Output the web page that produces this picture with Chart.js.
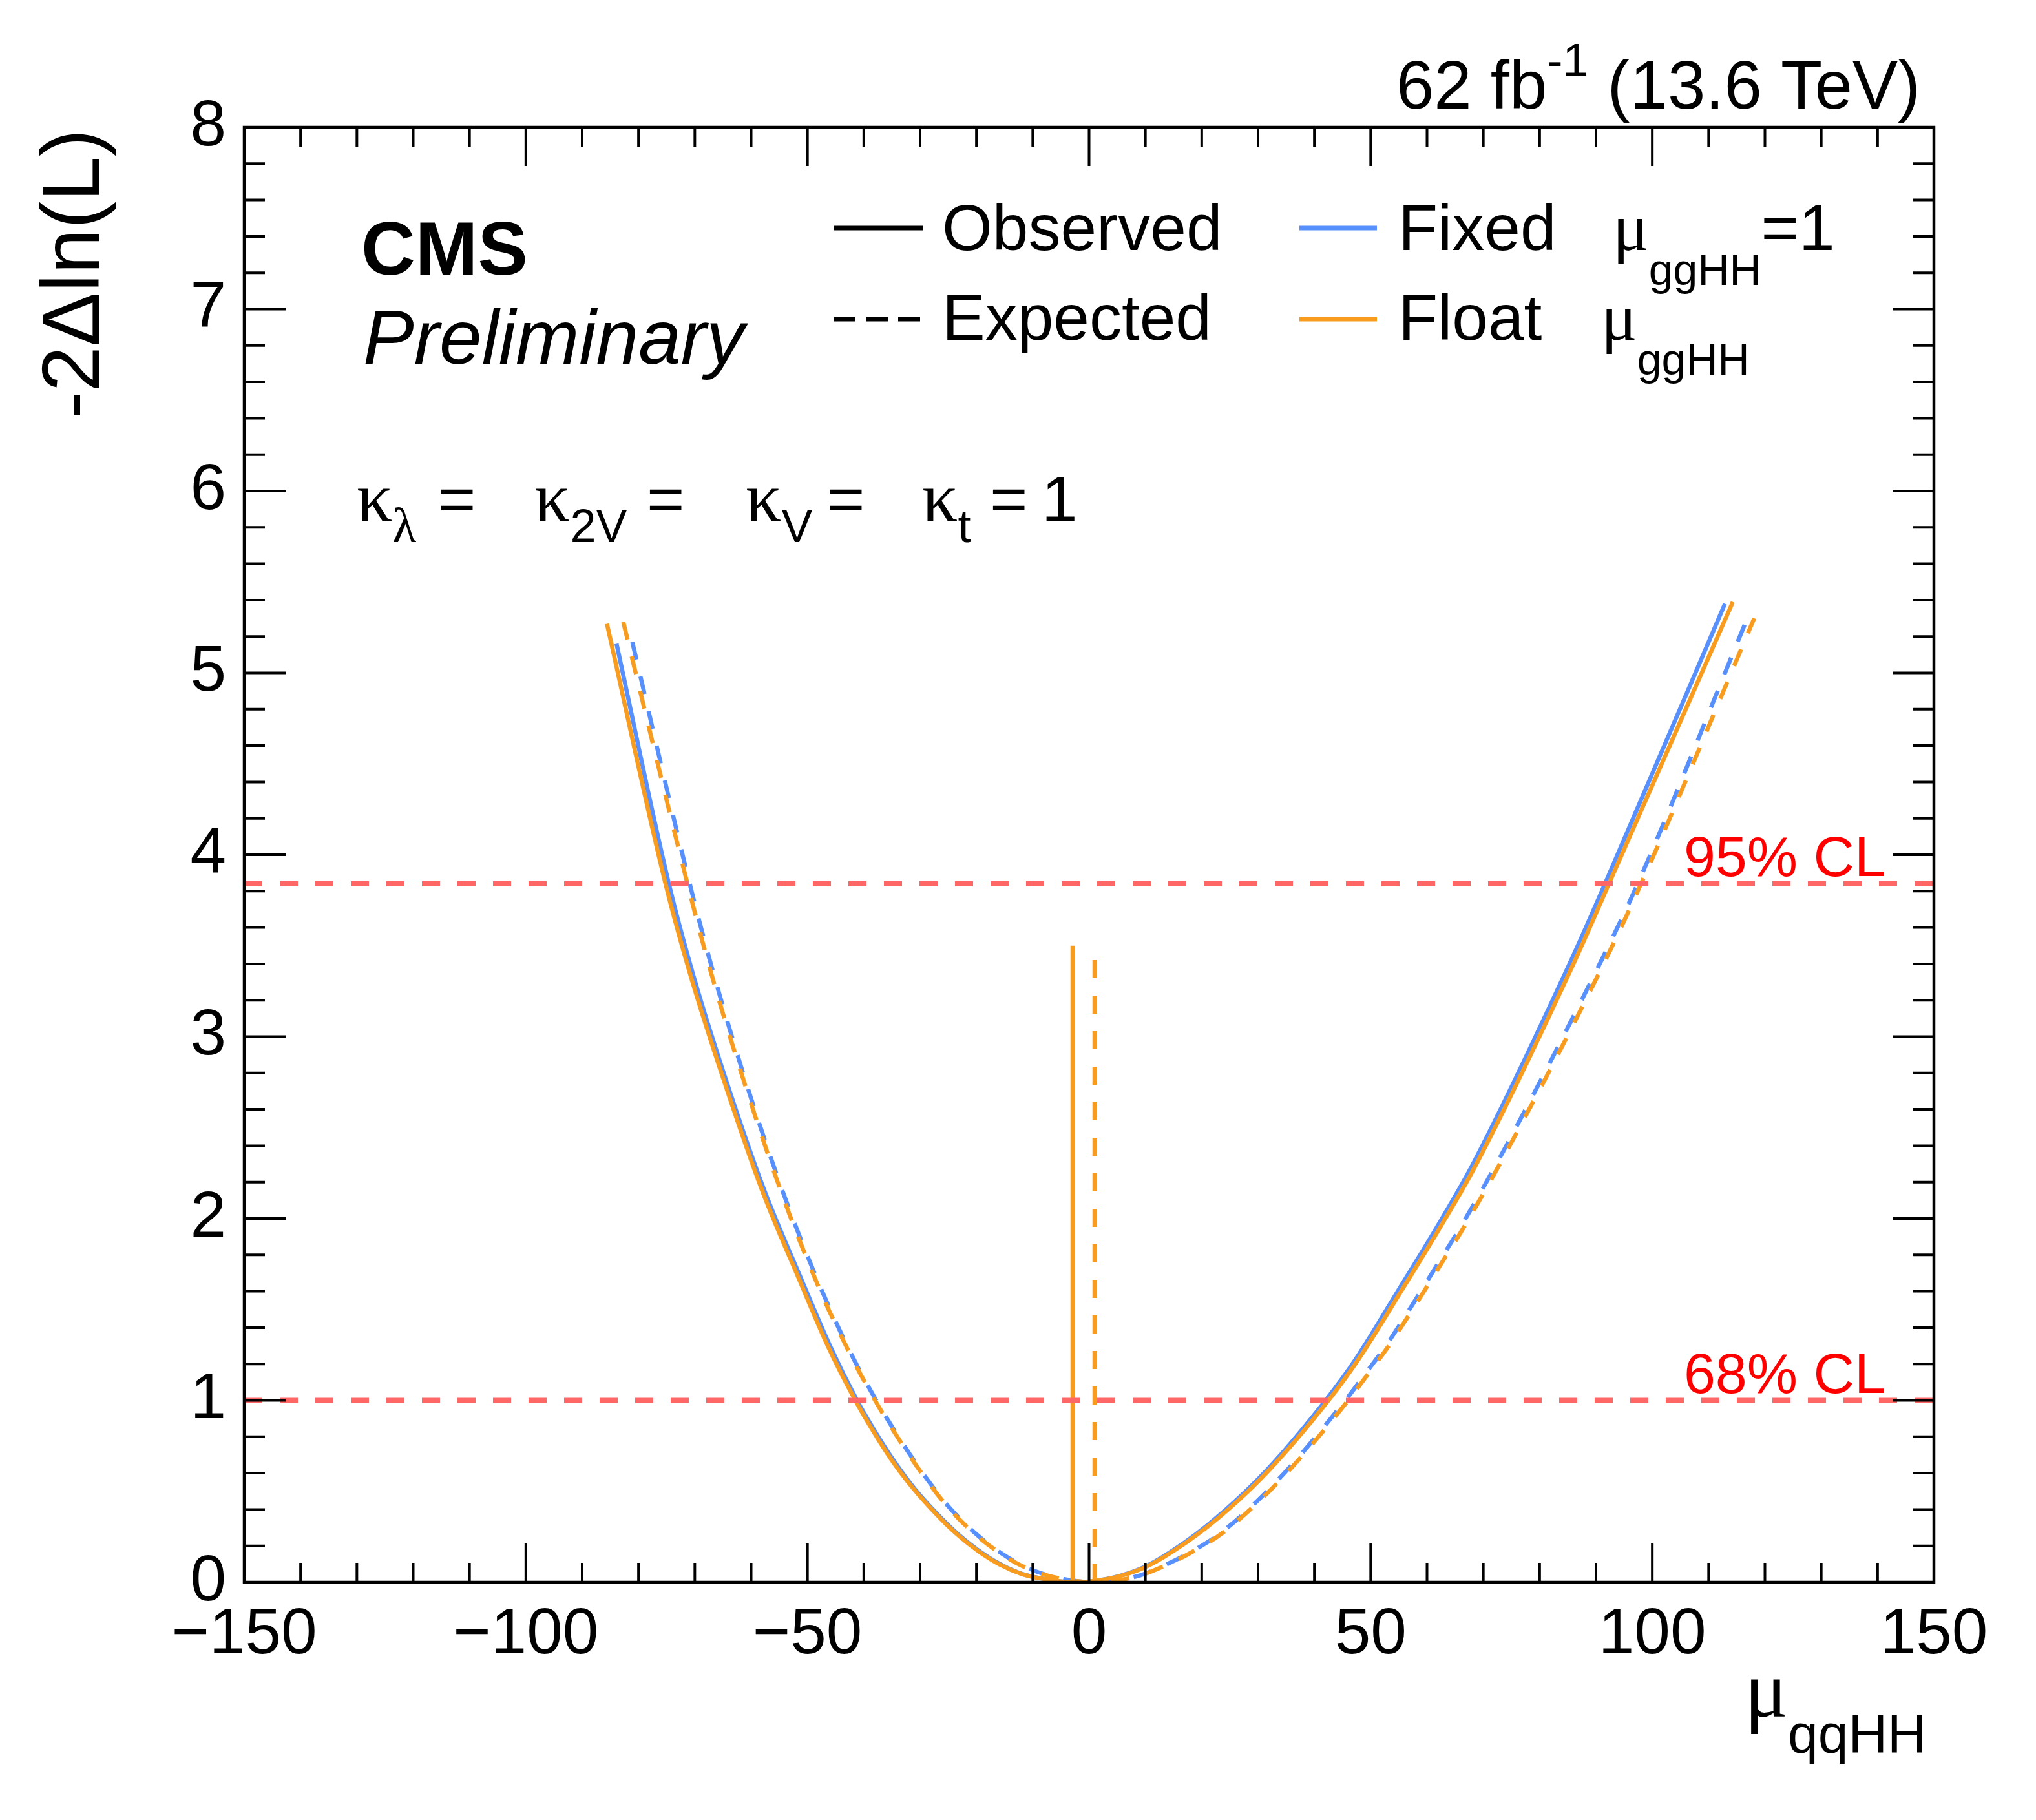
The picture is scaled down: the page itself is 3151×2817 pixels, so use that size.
<!DOCTYPE html>
<html>
<head>
<meta charset="utf-8">
<title>-2 Delta ln L scan of mu_qqHH</title>
<script src="https://cdn.jsdelivr.net/npm/chart.js@4.4.1/dist/chart.umd.min.js"></script>
<style>
  html, body { margin: 0; padding: 0; background: #fff; }
  #scan { display: block; }
</style>
</head>
<body>
<canvas id="scan" width="3151" height="2817"></canvas>
<script>
//------------------ values ------------------
// observed, mu_ggHH floating (orange solid)
const obsFloatX = [-85.6, -75.2, -70.7, -64.1, -58.0, -51.4, -46.4, -41.5, -38.8, -35.0, -31.2, -27.3, -23.5, -19.7, -15.9, -12.0, -8.2, -2.9, 8.5, 17.3, 24.7, 32.0, 42.5, 47.7, 55.4, 62.3, 68.6, 86.0, 92.3, 114.3];
const obsFloatY = [5.27, 3.84, 3.33, 2.69, 2.15, 1.66, 1.30, 1.00, 0.855, 0.67, 0.515, 0.38, 0.265, 0.172, 0.098, 0.046, 0.019, 0.0, 0.064, 0.22, 0.40, 0.618, 1.00, 1.22, 1.60, 1.95, 2.29, 3.40, 3.84, 5.39];

// observed, mu_ggHH fixed to 1 (blue solid)
const obsFixedX = [-83.9, -74.6, -70.2, -63.7, -57.6, -51.0, -46.0, -41.2, -38.5, -34.7, -31.0, -27.1, -23.3, -19.5, -15.7, -11.9, -8.1, -2.9, 8.3, 17.0, 24.3, 31.6, 42.0, 47.2, 54.8, 61.7, 68.0, 85.3, 91.6, 112.9];
const obsFixedY = [5.16, 3.84, 3.33, 2.69, 2.15, 1.66, 1.30, 1.00, 0.855, 0.67, 0.515, 0.38, 0.265, 0.172, 0.098, 0.046, 0.019, 0.0, 0.064, 0.22, 0.40, 0.618, 1.00, 1.22, 1.60, 1.95, 2.29, 3.40, 3.84, 5.38];

// expected, mu_ggHH floating (orange dashed)
const expFloatX = [-82.7, -71.3, -67.2, -60.2, -54.0, -47.9, -42.6, -38.0, -33.1, -29.2, -25.0, -20.4, -15.9, -12.0, -7.5, 1.0, 8.5, 13.6, 18.2, 23.9, 33.7, 46.0, 50.0, 53.2, 63.3, 66.4, 73.1, 90.4, 98.0, 118.1];
const expFloatY = [5.28, 3.84, 3.36, 2.65, 2.09, 1.615, 1.265, 1.00, 0.754, 0.577, 0.411, 0.269, 0.162, 0.091, 0.038, 0.0, 0.032, 0.093, 0.165, 0.276, 0.555, 1.00, 1.165, 1.30, 1.79, 1.945, 2.31, 3.34, 3.84, 5.30];

// expected, mu_ggHH fixed to 1 (blue dashed)
const expFixedX = [-81.1, -70.9, -66.8, -59.9, -53.7, -47.6, -42.4, -37.8, -32.9, -29.0, -24.8, -20.2, -15.7, -11.8, -7.3, 1.0, 8.4, 13.4, 18.0, 23.6, 33.3, 45.5, 49.5, 52.7, 62.7, 65.8, 72.5, 89.7, 97.4, 116.6];
const expFixedY = [5.17, 3.84, 3.36, 2.65, 2.09, 1.615, 1.265, 1.00, 0.754, 0.577, 0.411, 0.269, 0.162, 0.091, 0.038, 0.0, 0.032, 0.093, 0.165, 0.276, 0.555, 1.00, 1.165, 1.30, 1.79, 1.945, 2.31, 3.34, 3.84, 5.28];

// best fit markers (observed, expected) and their heights
const bestFitX = [-2.9, 1.0];
const bestFitTop = [3.5, 3.45];

// confidence levels
const clValues = [1.0, 3.84];
const clLabels = ['68% CL', '95% CL'];

// axes
const xRange = [-150, 150];
const yRange = [0, 8];
const xTickLabels = [-150, -100, -50, 0, 50, 100, 150];
const yTickLabels = [0, 1, 2, 3, 4, 5, 6, 7, 8];

//------------------ styles ------------------
const ORANGE = '#f89c20';
const BLUE = '#5790fc';
const CLRED = '#ff6666';
const SANS = '"Liberation Sans", Arial, Helvetica, sans-serif';
const SERIF = '"Liberation Serif", "Times New Roman", serif';
const DASH = [28, 27];

const toPoints = (xs, ys) => xs.map((x, i) => ({ x: x, y: ys[i] }));

const curve = (label, xs, ys, color, dashed) => ({
  label: label,
  data: toPoints(xs, ys),
  borderColor: color,
  borderWidth: 6.5,
  borderDash: dashed ? DASH : [],
  pointRadius: 0,
  showLine: true,
  fill: false,
  cubicInterpolationMode: 'monotone',
});

const datasets = [];
// CL lines on top
clValues.forEach((v, i) => {
  datasets.push({
    label: clLabels[i],
    data: [{ x: xRange[0], y: v }, { x: xRange[1], y: v }],
    borderColor: CLRED,
    borderWidth: 8,
    borderDash: DASH,
    pointRadius: 0,
    showLine: true,
  });
});
// best fit vertical lines
bestFitX.forEach((bx, i) => {
  datasets.push({
    label: i === 0 ? 'best fit obs' : 'best fit exp',
    data: [{ x: bx, y: 0 }, { x: bx, y: bestFitTop[i] }],
    borderColor: ORANGE,
    borderWidth: 7,
    borderDash: i === 0 ? [] : DASH,
    pointRadius: 0,
    showLine: true,
  });
});
datasets.push(curve('Observed, float', obsFloatX, obsFloatY, ORANGE, false));
datasets.push(curve('Expected, float', expFloatX, expFloatY, ORANGE, true));
datasets.push(curve('Observed, fixed', obsFixedX, obsFixedY, BLUE, false));
datasets.push(curve('Expected, fixed', expFixedX, expFixedY, BLUE, true));

//------------------ frame, ticks and texts ------------------
const drawRuns = (ctx, x, y, runs) => {
  // runs: [text, font, dy]
  runs.forEach(([text, font, dy]) => {
    ctx.font = font;
    ctx.fillText(text, x, y + (dy || 0));
    x += ctx.measureText(text).width;
  });
  return x;
};

const rootFrame = {
  id: 'rootFrame',
  afterDatasetsDraw(chart) {
    const { ctx, chartArea: a, scales } = chart;
    const xs = scales.x;
    const ys = scales.y;
    ctx.save();
    ctx.strokeStyle = '#000';
    ctx.lineWidth = 4;
    ctx.beginPath();
    // x ticks, top and bottom
    for (let v = xRange[0]; v <= xRange[1]; v += 10) {
      const px = xs.getPixelForValue(v);
      const len = v % 50 === 0 ? 60 : 30;
      ctx.moveTo(px, a.bottom);
      ctx.lineTo(px, a.bottom - len);
      ctx.moveTo(px, a.top);
      ctx.lineTo(px, a.top + len);
    }
    // y ticks, left and right
    for (let k = 0; k <= 40; k++) {
      const v = yRange[0] + k * 0.2;
      const py = ys.getPixelForValue(v);
      const len = k % 5 === 0 ? 64 : 32;
      ctx.moveTo(a.left, py);
      ctx.lineTo(a.left + len, py);
      ctx.moveTo(a.right, py);
      ctx.lineTo(a.right - len, py);
    }
    ctx.stroke();
    ctx.lineWidth = 4.5;
    ctx.strokeRect(a.left, a.top, a.right - a.left, a.bottom - a.top);
    ctx.restore();
  },
  afterDraw(chart) {
    const { ctx, chartArea: a, scales } = chart;
    ctx.save();
    ctx.fillStyle = '#000';
    ctx.textBaseline = 'alphabetic';
    ctx.textAlign = 'left';

    // luminosity label
    const f1 = `105px ${SANS}`;
    const f2 = `72px ${SANS}`;
    ctx.font = f1;
    const w1 = ctx.measureText('62 fb').width;
    const w3 = ctx.measureText(' (13.6 TeV)').width;
    ctx.font = f2;
    const w2 = ctx.measureText('-1').width;
    drawRuns(ctx, 2972 - (w1 + w2 + w3), 168, [['62 fb', f1], ['-1', f2, -50], [' (13.6 TeV)', f1]]);

    // CMS Preliminary
    ctx.font = `bold 116px ${SANS}`;
    ctx.fillText('CMS', 559, 425);
    ctx.font = `italic 118px ${SANS}`;
    ctx.fillText('Preliminary', 562, 563);

    // kappa line
    const kF = `110px ${SERIF}`;
    const eqF = `100px ${SANS}`;
    const subF = `72px ${SANS}`;
    const subG = `76px ${SERIF}`;
    drawRuns(ctx, 552, 807, [['\u03ba', kF], ['\u03bb', subG, 32]]);
    drawRuns(ctx, 827, 807, [['\u03ba', kF], ['2V', subF, 32]]);
    drawRuns(ctx, 1154, 807, [['\u03ba', kF], ['V', subF, 32]]);
    drawRuns(ctx, 1427, 807, [['\u03ba', kF], ['t', subF, 32]]);
    ctx.font = eqF;
    ctx.fillText('=', 678, 807);
    ctx.fillText('=', 1001, 807);
    ctx.fillText('=', 1280, 807);
    ctx.fillText('=', 1532, 807);
    ctx.fillText('1', 1612, 807);

    // legend
    ctx.lineWidth = 7;
    ctx.strokeStyle = '#000';
    ctx.beginPath();
    ctx.moveTo(1290, 353); ctx.lineTo(1428, 353);
    ctx.stroke();
    ctx.setLineDash([34, 16]);
    ctx.beginPath();
    ctx.moveTo(1290, 494); ctx.lineTo(1428, 494);
    ctx.stroke();
    ctx.setLineDash([]);
    ctx.strokeStyle = BLUE;
    ctx.beginPath();
    ctx.moveTo(2011, 353); ctx.lineTo(2131, 353);
    ctx.stroke();
    ctx.strokeStyle = ORANGE;
    ctx.beginPath();
    ctx.moveTo(2011, 494); ctx.lineTo(2131, 494);
    ctx.stroke();

    const lF = `100px ${SANS}`;
    const muF = `104px ${SERIF}`;
    const lsub = `68px ${SANS}`;
    ctx.font = lF;
    ctx.fillText('Observed', 1458, 387);
    ctx.fillText('Expected', 1458, 526);
    ctx.fillText('Fixed', 2164, 387);
    ctx.fillText('Float', 2164, 526);
    drawRuns(ctx, 2496, 387, [['\u03bc', muF], ['ggHH', lsub, 54], ['=1', lF]]);
    drawRuns(ctx, 2478, 526, [['\u03bc', muF], ['ggHH', lsub, 54]]);

    // CL labels
    ctx.fillStyle = '#ff0000';
    ctx.font = `88px ${SANS}`;
    ctx.textAlign = 'right';
    clValues.forEach((v, i) => {
      ctx.fillText(clLabels[i], 2919, scales.y.getPixelForValue(v) - 12);
    });

    // axis titles
    ctx.fillStyle = '#000';
    ctx.textAlign = 'left';
    drawRuns(ctx, 2700, 2657, [['\u03bc', `125px ${SERIF}`], ['qqHH', `84px ${SANS}`, 56]]);

    ctx.save();
    ctx.translate(153, a.top + 3);
    ctx.rotate(-Math.PI / 2);
    ctx.textAlign = 'right';
    ctx.font = `126px ${SANS}`;
    ctx.fillText('-2\u0394ln(L)', 0, 0);
    ctx.restore();

    ctx.restore();
  },
};

//------------------ chart ------------------
const tickFont = { family: SANS, size: 100 };

new Chart(document.getElementById('scan'), {
  type: 'scatter',
  data: { datasets: datasets },
  options: {
    responsive: false,
    animation: false,
    devicePixelRatio: 1,
    layout: { padding: { left: 128, right: 158, top: 197, bottom: 168 } },
    plugins: {
      legend: { display: false },
      tooltip: { enabled: false },
    },
    scales: {
      x: {
        type: 'linear',
        min: xRange[0],
        max: xRange[1],
        grid: { display: false },
        border: { display: false },
        afterBuildTicks: (s) => { s.ticks = xTickLabels.map((v) => ({ value: v })); },
        ticks: {
          autoSkip: false,
          maxRotation: 0,
          padding: 14,
          color: '#000',
          font: tickFont,
          callback: (v) => String(v).replace('-', '\u2212'),
        },
        afterFit: (s) => { s.height = 200; },
      },
      y: {
        type: 'linear',
        min: yRange[0],
        max: yRange[1],
        grid: { display: false },
        border: { display: false },
        afterBuildTicks: (s) => { s.ticks = yTickLabels.map((v) => ({ value: v })); },
        ticks: {
          autoSkip: false,
          padding: 20,
          color: '#000',
          font: tickFont,
        },
        afterFit: (s) => { s.width = 250; },
      },
    },
  },
  plugins: [rootFrame],
});
</script>
</body>
</html>
